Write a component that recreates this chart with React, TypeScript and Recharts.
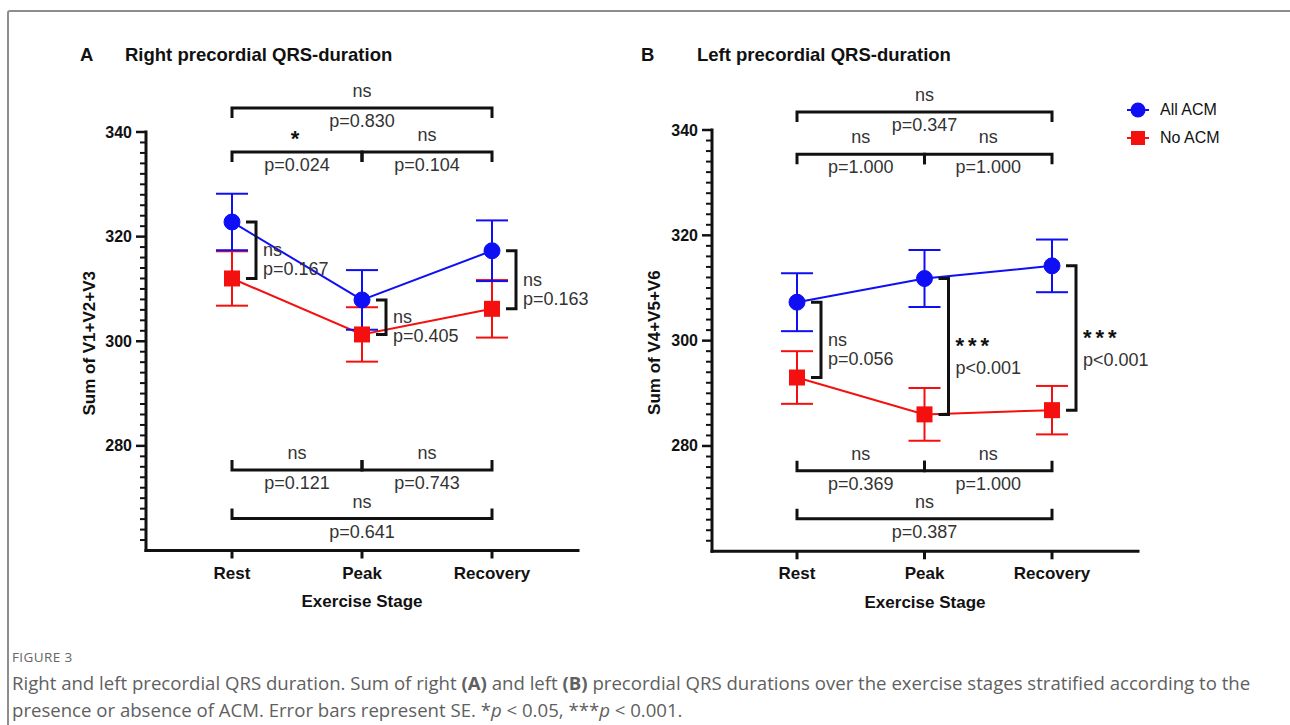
import React from 'react'
import { ErrorBar, Label, Line, LineChart, ReferenceLine, XAxis, YAxis } from 'recharts'

// stages on the x axis
const STAGES = ['Rest', 'Peak', 'Recovery']

// y axis: labelled ticks + small ticks every 2 ms
const Y_MAJOR = [280, 300, 320, 340]
const Y_TICKS = Array.from({ length: 40 }, (_, i) => 262 + i * 2)

// A - right precordial (V1+V2+V3), mean and SE
const RIGHT_ALL = [322.8, 307.9, 317.3]
const RIGHT_ALL_SE = [5.4, 5.7, 5.8]
const RIGHT_NO = [312.0, 301.3, 306.2]
const RIGHT_NO_SE = [5.2, 5.2, 5.5]

// B - left precordial (V4+V5+V6), mean and SE
const LEFT_ALL = [307.3, 311.8, 314.2]
const LEFT_ALL_SE = [5.5, 5.4, 5.0]
const LEFT_NO = [293.0, 286.0, 286.8]
const LEFT_NO_SE = [5.0, 5.0, 4.6]

// comparisons between stages (level = height of the bracket, in ms)
const RIGHT_TOP = [
  { from: 'Rest', to: 'Recovery', level: 344.6, sig: 'ns', p: 'p=0.830' },
  { from: 'Rest', to: 'Peak', level: 336.2, sig: '*', p: 'p=0.024' },
  { from: 'Peak', to: 'Recovery', level: 336.2, sig: 'ns', p: 'p=0.104' },
]
const RIGHT_BOTTOM = [
  { from: 'Rest', to: 'Peak', level: 275.4, sig: 'ns', p: 'p=0.121' },
  { from: 'Peak', to: 'Recovery', level: 275.4, sig: 'ns', p: 'p=0.743' },
  { from: 'Rest', to: 'Recovery', level: 266.1, sig: 'ns', p: 'p=0.641' },
]
const LEFT_TOP = [
  { from: 'Rest', to: 'Recovery', level: 343.4, sig: 'ns', p: 'p=0.347' },
  { from: 'Rest', to: 'Peak', level: 335.4, sig: 'ns', p: 'p=1.000' },
  { from: 'Peak', to: 'Recovery', level: 335.4, sig: 'ns', p: 'p=1.000' },
]
const LEFT_BOTTOM = [
  { from: 'Rest', to: 'Peak', level: 275.3, sig: 'ns', p: 'p=0.369' },
  { from: 'Peak', to: 'Recovery', level: 275.3, sig: 'ns', p: 'p=1.000' },
  { from: 'Rest', to: 'Recovery', level: 266.2, sig: 'ns', p: 'p=0.387' },
]

// comparisons between groups at each stage
const RIGHT_GROUP = [
  { sig: 'ns', p: 'p=0.167' },
  { sig: 'ns', p: 'p=0.405' },
  { sig: 'ns', p: 'p=0.163' },
]
const LEFT_GROUP = [
  { sig: 'ns', p: 'p=0.056' },
  { sig: '***', p: 'p<0.001' },
  { sig: '***', p: 'p<0.001' },
]

const SERIES = [
  { key: 'all', name: 'All ACM' },
  { key: 'no', name: 'No ACM' },
]

const BLUE = '#0f0ff5'
const RED = '#f51010'
const INK = '#111'
const NOTE = '#333'
const FONT = '"Liberation Sans", Arial, sans-serif'
const NOTE_SIZE = 18

function buildRows(all: number[], allSe: number[], no: number[], noSe: number[]) {
  return STAGES.map((stage, i) => ({ stage, all: all[i], allSe: allSe[i], no: no[i], noSe: noSe[i] }))
}

function SigText({ x, y, sig, anchor }: { x: number; y: number; sig: string; anchor: 'start' | 'middle' }) {
  const star = sig.includes('*')
  return (
    <text
      x={x}
      y={star ? y + 4 : y}
      textAnchor={anchor}
      dominantBaseline="central"
      fontFamily={FONT}
      fontSize={star ? 22 : NOTE_SIZE}
      fontWeight={star ? 700 : 400}
      letterSpacing={star ? 4 : 0}
      fill={star ? INK : NOTE}
    >
      {sig}
    </text>
  )
}

function HBracket(props: any) {
  const { x1, x2, y1, side, sig, p } = props
  const leg = side === 'top' ? 10 : -10
  const mid = (x1 + x2) / 2
  return (
    <g>
      <path d={`M${x1},${y1 + leg}V${y1}H${x2}V${y1 + leg}`} fill="none" stroke={INK} strokeWidth={3} />
      <SigText x={mid} y={y1 - 17} sig={sig} anchor="middle" />
      <text x={mid} y={y1 + 13} textAnchor="middle" dominantBaseline="central" fontFamily={FONT} fontSize={NOTE_SIZE} fill={NOTE}>
        {p}
      </text>
    </g>
  )
}

function VBracket(props: any) {
  const { x1, y1, y2, sig, p } = props
  const bx = x1 + 24
  const mid = (y1 + y2) / 2
  const star = sig.includes('*')
  return (
    <g>
      <path d={`M${bx - 10},${y1}H${bx}V${y2}H${bx - 10}`} fill="none" stroke={INK} strokeWidth={3} />
      <SigText x={bx + 7} y={star ? mid - 5 : mid} sig={sig} anchor="start" />
      <text x={bx + 7} y={star ? mid + 21.5 : mid + 19} dominantBaseline="central" fontFamily={FONT} fontSize={NOTE_SIZE} fill={NOTE}>
        {p}
      </text>
    </g>
  )
}

function YTick(props: any) {
  const { x, y, payload } = props
  const axisX = x + 14
  const major = Y_MAJOR.includes(payload.value)
  return (
    <g>
      <line x1={axisX - (major ? 10 : 6)} x2={axisX} y1={y} y2={y} stroke={INK} strokeWidth={major ? 2.5 : 2} />
      {major && (
        <text x={x} y={y} textAnchor="end" dominantBaseline="central" fontFamily={FONT} fontSize={16} fontWeight={700} fill={INK}>
          {payload.value}
        </text>
      )}
    </g>
  )
}

const squareDot = (p: any) => (
  <rect key={`sq-${p.index}`} x={p.cx - 8} y={p.cy - 8} width={16} height={16} fill={RED} />
)

interface Comparison {
  from: string
  to: string
  level: number
  sig: string
  p: string
}

interface PanelProps {
  all: number[]
  allSe: number[]
  no: number[]
  noSe: number[]
  top: Comparison[]
  bottom: Comparison[]
  group: { sig: string; p: string }[]
  yLabel: string
  width: number
  margin: { top: number; right: number; bottom: number; left: number }
  padding: { left: number; right: number }
}

function Panel({ all, allSe, no, noSe, top, bottom, group, yLabel, width, margin, padding }: PanelProps) {
  const rows = buildRows(all, allSe, no, noSe)
  const axisLine = { stroke: INK, strokeWidth: 3, strokeLinecap: 'square' as const }
  return (
    <LineChart width={width} height={620} data={rows} margin={margin}>
      <XAxis
        dataKey="stage"
        padding={padding}
        interval={0}
        tickSize={8}
        tickMargin={8}
        axisLine={axisLine}
        tickLine={{ stroke: INK, strokeWidth: 3 }}
        tick={{ fill: INK, fontSize: 17, fontWeight: 700, fontFamily: FONT }}
      >
        <Label
          content={({ viewBox }: any) => (
            <text
              x={viewBox.x + viewBox.width / 2}
              y={viewBox.y + 51}
              textAnchor="middle"
              dominantBaseline="central"
              fontFamily={FONT}
              fontSize={17}
              fontWeight={700}
              fill={INK}
            >
              Exercise Stage
            </text>
          )}
        />
      </XAxis>
      <YAxis
        type="number"
        domain={[260, 340]}
        ticks={Y_TICKS}
        interval={0}
        width={60}
        tickSize={10}
        tickMargin={4}
        tickLine={false}
        axisLine={axisLine}
        tick={<YTick />}
      >
        <Label
          content={({ viewBox }: any) => {
            const cx = viewBox.x + 3
            const cy = viewBox.y + viewBox.height / 2 + 2
            return (
              <text
                x={cx}
                y={cy}
                transform={`rotate(-90 ${cx} ${cy})`}
                textAnchor="middle"
                dominantBaseline="central"
                fontFamily={FONT}
                fontSize={17}
                fontWeight={700}
                fill={INK}
              >
                {yLabel}
              </text>
            )
          }}
        />
      </YAxis>

      <Line
        dataKey="no"
        name={SERIES[1].name}
        type="linear"
        stroke={RED}
        strokeWidth={2}
        dot={squareDot}
        activeDot={false}
        isAnimationActive={false}
      >
        <ErrorBar dataKey="noSe" width={16} strokeWidth={2} stroke={RED} direction="y" isAnimationActive={false} />
      </Line>
      <Line
        dataKey="all"
        name={SERIES[0].name}
        type="linear"
        stroke={BLUE}
        strokeWidth={2}
        dot={{ r: 8, fill: BLUE, stroke: BLUE, strokeWidth: 1 }}
        activeDot={false}
        isAnimationActive={false}
      >
        <ErrorBar dataKey="allSe" width={16} strokeWidth={2} stroke={BLUE} direction="y" isAnimationActive={false} />
      </Line>

      {top.map((c, i) => (
        <ReferenceLine
          key={`t${i}`}
          ifOverflow="visible"
          segment={[
            { x: c.from, y: c.level },
            { x: c.to, y: c.level },
          ]}
          shape={(sp: any) => <HBracket {...sp} side="top" sig={c.sig} p={c.p} />}
        />
      ))}
      {bottom.map((c, i) => (
        <ReferenceLine
          key={`b${i}`}
          ifOverflow="visible"
          segment={[
            { x: c.from, y: c.level },
            { x: c.to, y: c.level },
          ]}
          shape={(sp: any) => <HBracket {...sp} side="bottom" sig={c.sig} p={c.p} />}
        />
      ))}
      {group.map((g, i) => (
        <ReferenceLine
          key={`g${i}`}
          ifOverflow="visible"
          segment={[
            { x: STAGES[i], y: all[i] },
            { x: STAGES[i], y: no[i] },
          ]}
          shape={(sp: any) => <VBracket {...sp} sig={g.sig} p={g.p} />}
        />
      ))}
    </LineChart>
  )
}

function LegendBox() {
  return (
    <div style={{ position: 'absolute', left: 1123, top: 96, fontFamily: FONT, fontSize: 16, color: INK }}>
      {SERIES.map((s) => (
        <div key={s.key} style={{ display: 'flex', alignItems: 'center', height: 28 }}>
          <svg width={30} height={20} style={{ marginRight: 7 }}>
            <line x1={4} x2={26} y1={10} y2={10} stroke={s.key === 'all' ? BLUE : RED} strokeWidth={2} />
            {s.key === 'all' ? (
              <circle cx={15} cy={10} r={7.5} fill={BLUE} />
            ) : (
              <rect x={8} y={3} width={14} height={14} fill={RED} />
            )}
          </svg>
          <span>{s.name}</span>
        </div>
      ))}
    </div>
  )
}

const titleStyle: React.CSSProperties = {
  position: 'absolute',
  fontFamily: FONT,
  fontWeight: 700,
  fontSize: 18.5,
  color: INK,
  lineHeight: '20px',
  whiteSpace: 'nowrap',
}

const captionStyle: React.CSSProperties = {
  position: 'absolute',
  left: 12,
  fontFamily: '"Open Sans", Lato, sans-serif',
  fontSize: 18.6,
  color: '#606060',
  whiteSpace: 'nowrap',
  lineHeight: '20px',
}

export default function App() {
  return (
    <div style={{ position: 'relative', width: 1290, height: 725, background: '#fff', overflow: 'hidden' }}>
      <style>{'body{margin:0;overflow:hidden}'}</style>
      <div
        style={{
          position: 'absolute',
          left: 7,
          top: 10,
          width: 1283,
          height: 715,
          boxSizing: 'border-box',
          borderTop: '2px solid #8d8d8d',
          borderLeft: '2px solid #8d8d8d',
          borderTopLeftRadius: 3,
        }}
      />

      <div style={{ ...titleStyle, left: 80, top: 45 }}>A</div>
      <div style={{ ...titleStyle, left: 125, top: 45 }}>Right precordial QRS-duration</div>
      <div style={{ ...titleStyle, left: 641, top: 45 }}>B</div>
      <div style={{ ...titleStyle, left: 697, top: 45 }}>Left precordial QRS-duration</div>

      <div style={{ position: 'absolute', left: 0, top: 0 }}>
        <Panel
          all={RIGHT_ALL}
          allSe={RIGHT_ALL_SE}
          no={RIGHT_NO}
          noSe={RIGHT_NO_SE}
          top={RIGHT_TOP}
          bottom={RIGHT_BOTTOM}
          group={RIGHT_GROUP}
          yLabel="Sum of V1+V2+V3"
          width={640}
          margin={{ top: 132, right: 62, bottom: 39.5, left: 86 }}
          padding={{ left: 86, right: 86 }}
        />
      </div>
      <div style={{ position: 'absolute', left: 640, top: 0 }}>
        <Panel
          all={LEFT_ALL}
          allSe={LEFT_ALL_SE}
          no={LEFT_NO}
          noSe={LEFT_NO_SE}
          top={LEFT_TOP}
          bottom={LEFT_BOTTOM}
          group={LEFT_GROUP}
          yLabel="Sum of V4+V5+V6"
          width={650}
          margin={{ top: 130, right: 152, bottom: 38.7, left: 12 }}
          padding={{ left: 85, right: 86 }}
        />
      </div>

      <LegendBox />

      <div style={{ ...captionStyle, top: 647, fontSize: 13.5, color: '#666', letterSpacing: 0.4 }}>FIGURE 3</div>
      <div style={{ ...captionStyle, top: 673 }}>
        Right and left precordial QRS duration. Sum of right <b>(A)</b> and left <b>(B)</b> precordial QRS durations
        over the exercise stages stratified according to the
      </div>
      <div style={{ ...captionStyle, top: 700 }}>
        presence or absence of ACM. Error bars represent SE. *<i>p</i> &lt; 0.05, ***<i>p</i> &lt; 0.001.
      </div>
    </div>
  )
}
